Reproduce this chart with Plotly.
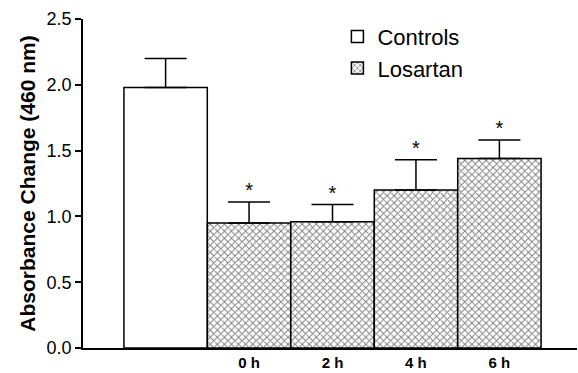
import plotly.graph_objects as go

categories = ["Controls", "0 h", "2 h", "4 h", "6 h"]
tick_labels = ["", "0 h", "2 h", "4 h", "6 h"]
control_cats = ["Controls"]
control_vals = [1.98]
control_err = [0.22]
losartan_cats = ["0 h", "2 h", "4 h", "6 h"]
losartan_vals = [0.95, 0.96, 1.20, 1.44]
losartan_err = [0.16, 0.13, 0.23, 0.14]
star_cats = ["0 h", "2 h", "4 h", "6 h"]

fig = go.Figure()
fig.add_trace(go.Bar(
    x=control_cats, y=control_vals, name="Controls", width=0.999,
    marker=dict(color="white", line=dict(color="black", width=1.5)),
    error_y=dict(type="data", array=control_err, arrayminus=[0] * len(control_err),
                 color="black", thickness=1.5, width=21),
))
fig.add_trace(go.Bar(
    x=losartan_cats, y=losartan_vals, name="Losartan", width=0.999,
    marker=dict(color="white", line=dict(color="black", width=1.5),
                pattern=dict(shape="x", fgcolor="black", bgcolor="white", size=5, solidity=0.35)),
    error_y=dict(type="data", array=losartan_err, arrayminus=[0] * len(losartan_err),
                 color="black", thickness=1.5, width=21),
))
fig.add_trace(go.Scatter(
    x=star_cats, y=[v + e for v, e in zip(losartan_vals, losartan_err)],
    mode="text", text=["*"] * len(star_cats), textposition="top center",
    textfont=dict(family="Liberation Sans, Arial", size=20, color="black"),
    showlegend=False, hoverinfo="skip", cliponaxis=False,
))

fig.update_layout(
    width=578, height=373,
    margin=dict(l=83, r=1, t=19, b=25),
    plot_bgcolor="white", paper_bgcolor="white",
    barmode="overlay",
    font=dict(family="Liberation Sans, Arial", color="black"),
    showlegend=True,
    legend=dict(x=0.515, y=1.01, xanchor="left", yanchor="top",
                font=dict(size=22), bgcolor="rgba(0,0,0,0)",
                tracegroupgap=0, itemwidth=30),
    xaxis=dict(type="category", categoryorder="array", categoryarray=categories,
               tickvals=categories, ticktext=tick_labels,
               range=[-0.99, 4.93], showline=True, linecolor="black", linewidth=1.5,
               ticks="", showgrid=False, zeroline=False,
               tickfont=dict(size=15, family="Liberation Sans, Arial", weight="bold")),
    yaxis=dict(range=[0, 2.5], tickvals=[0, 0.5, 1.0, 1.5, 2.0, 2.5],
               ticktext=["0.0", "0.5", "1.0", "1.5", "2.0", "2.5"],
               showline=True, linecolor="black", linewidth=1.5,
               ticks="outside", ticklen=6, tickwidth=1.5, tickcolor="black",
               showgrid=False, zeroline=False,
               tickfont=dict(size=18),
               title=dict(text="<b>Absorbance Change (460 nm)</b>", font=dict(size=21), standoff=5)),
)

fig.write_html("out.html")
